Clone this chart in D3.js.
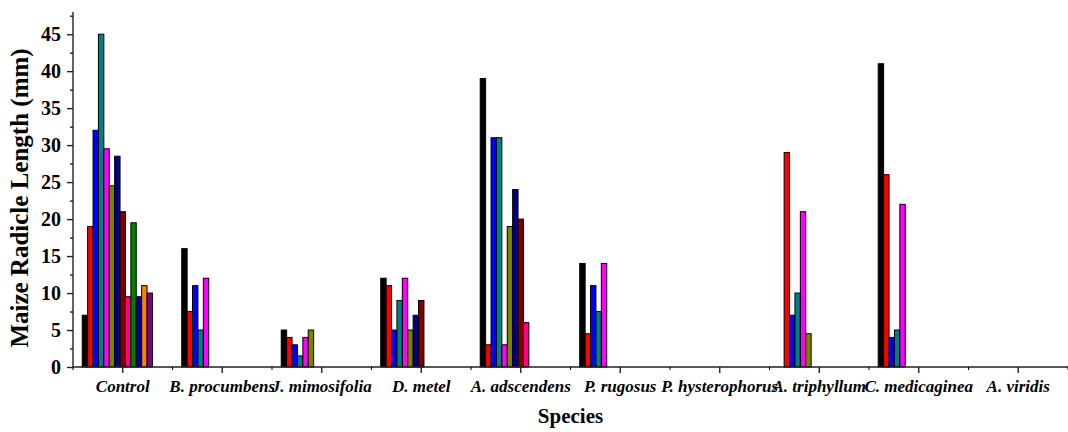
<!DOCTYPE html>
<html>
<head>
<meta charset="utf-8">
<script src="https://cdn.jsdelivr.net/npm/d3@7"></script>
<style>
  html, body { margin: 0; padding: 0; background: #fff; }
  svg { display: block; }
  text { font-family: "Liberation Serif", "Times New Roman", serif; font-weight: bold; }
</style>
</head>
<body>
<svg id="chart" width="1068" height="432"></svg>
<script>
// Species along the x axis
const species = ["Control", "B. procumbens", "J. mimosifolia", "D. metel", "A. adscendens",
  "P. rugosus", "P. hysterophorus", "A. triphyllum", "C. medicaginea", "A. viridis"];

// One array per treatment column (radicle length in mm); null = no bar
const s1  = [7,    16,   5,    12,   39,   14,   null, null, 41,   null];
const s2  = [19,   7.5,  4,    11,   3,    4.5,  null, 29,   26,   null];
const s3  = [32,   11,   3,    5,    31,   11,   null, 7,    4,    null];
const s4  = [45,   5,    1.5,  9,    31,   7.5,  null, 10,   5,    null];
const s5  = [29.5, 12,   4,    12,   3,    14,   null, 21,   22,   null];
const s6  = [24.5, null, 5,    5,    19,   null, null, 4.5,  null, null];
const s7  = [28.5, null, null, 7,    24,   null, null, null, null, null];
const s8  = [21,   null, null, 9,    20,   null, null, null, null, null];
const s9  = [9.5,  null, null, null, 6,    null, null, null, null, null];
const s10 = [19.5, null, null, null, null, null, null, null, null, null];
const s11 = [9.5,  null, null, null, null, null, null, null, null, null];
const s12 = [11,   null, null, null, null, null, null, null, null, null];
const s13 = [10,   null, null, null, null, null, null, null, null, null];

const seriesValues = [s1, s2, s3, s4, s5, s6, s7, s8, s9, s10, s11, s12, s13];
const seriesColors = ["#000000", "#FF0000", "#0000FF", "#008080", "#FF00FF", "#808000",
  "#000080", "#800000", "#FF0080", "#008000", "#000099", "#FF8000", "#800080"];

// Y axis ticks
const yMajorTicks = [0, 5, 10, 15, 20, 25, 30, 35, 40, 45];
const yMinorTicks = [2.5, 7.5, 12.5, 17.5, 22.5, 27.5, 32.5, 37.5, 42.5, 47.5];
const yMax = 48;

// Columns reserved per group (groups are centred on this many slots)
const groupSlots = 15;

const svg = d3.select("#chart");
const plotLeft = 73, plotRight = 1068, plotTop = 12, plotBottom = 367;

const x0 = d3.scaleBand().domain(species).range([plotLeft, plotRight]).paddingInner(0).paddingOuter(0);
const x1 = d3.scaleBand().domain(d3.range(groupSlots)).range([0, x0.bandwidth()]).paddingOuter(1.71);
const y = d3.scaleLinear().domain([0, yMax]).range([plotBottom, plotTop]);

// Bars
const rows = [];
seriesValues.forEach((vals, si) => {
  vals.forEach((v, ci) => {
    if (v != null) rows.push({ sp: species[ci], si, v });
  });
});

svg.append("g")
  .selectAll("rect")
  .data(rows)
  .join("rect")
  .attr("x", d => x0(d.sp) + x1(d.si))
  .attr("y", d => y(d.v))
  .attr("width", x1.bandwidth())
  .attr("height", d => y(0) - y(d.v))
  .attr("fill", d => seriesColors[d.si])
  .attr("stroke", "#000")
  .attr("stroke-width", 1);

// Y axis
const yAxis = svg.append("g").attr("transform", `translate(${plotLeft},0)`);
yAxis.call(d3.axisLeft(y).tickValues(yMajorTicks).tickSize(6).tickPadding(6).tickFormat(d3.format("d")));
yAxis.append("g").call(d3.axisLeft(y).tickValues(yMinorTicks).tickSize(3).tickFormat(""))
  .select(".domain").remove();
yAxis.select(".domain").attr("d", `M0,${y(yMax)}V${plotBottom}`);
yAxis.selectAll("text").attr("font-size", 20).attr("fill", "#000");

// X axis: major ticks at species centres, minor ticks at group boundaries
const xAxis = svg.append("g").attr("transform", `translate(0,${plotBottom})`);
xAxis.call(d3.axisBottom(x0).tickSize(6).tickPadding(7).tickSizeOuter(0));
xAxis.select(".domain").attr("d", `M${plotLeft},0H${plotRight}`);
xAxis.selectAll(".tick text")
  .attr("font-size", 17)
  .attr("font-style", "italic")
  .attr("fill", "#000");
const xMinor = d3.range(species.length + 1).map(i => plotLeft + i * x0.step());
xAxis.append("g").selectAll("line")
  .data(xMinor)
  .join("line")
  .attr("x1", d => d).attr("x2", d => d)
  .attr("y1", 0).attr("y2", 3)
  .attr("stroke", "#000");

svg.selectAll(".domain, .tick line").attr("stroke", "#222").attr("stroke-width", 1.4);

// Axis titles
svg.append("text")
  .attr("x", (plotLeft + plotRight) / 2)
  .attr("y", 423)
  .attr("text-anchor", "middle")
  .attr("font-size", 21)
  .text("Species");

svg.append("text")
  .attr("transform", `translate(28,198) rotate(-90)`)
  .attr("text-anchor", "middle")
  .attr("font-size", 25)
  .text("Maize Radicle Length (mm)");
</script>
</body>
</html>
